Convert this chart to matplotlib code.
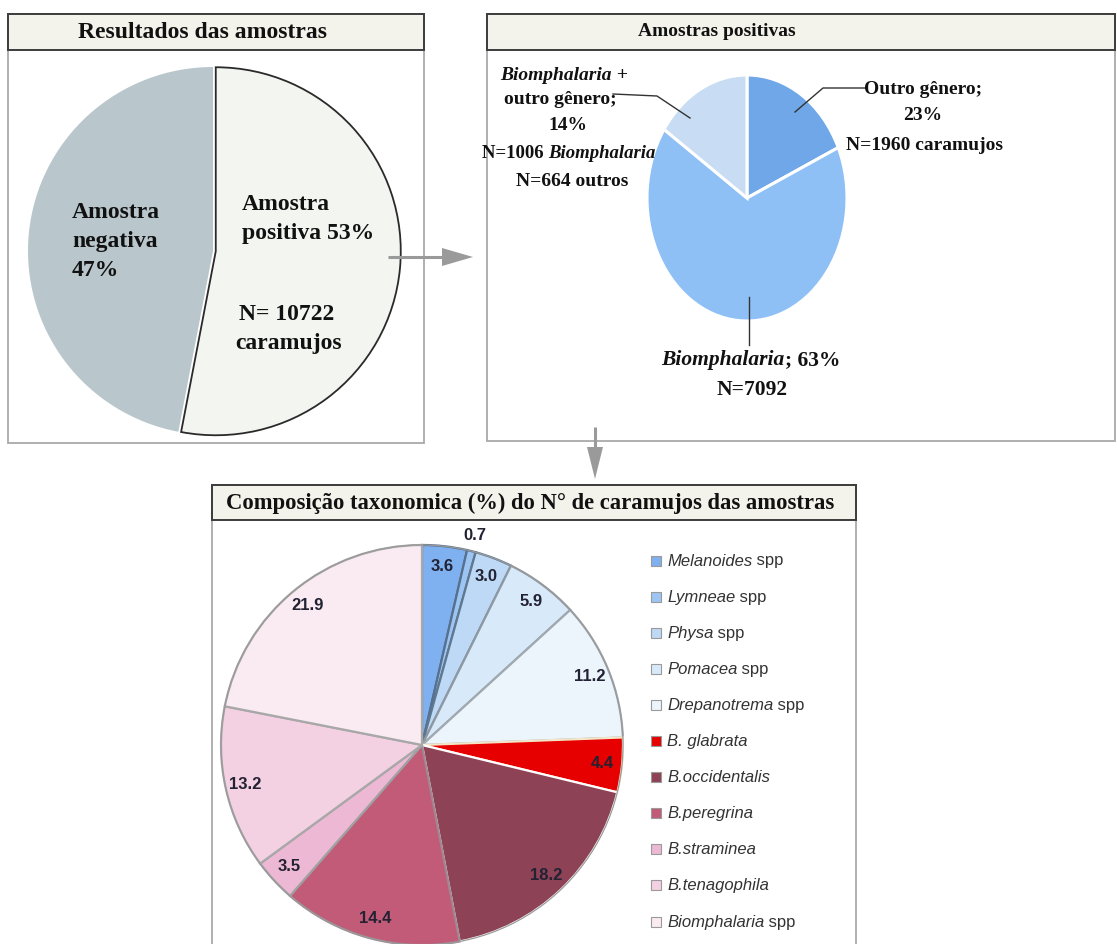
import matplotlib
matplotlib.use('Agg')
import matplotlib.pyplot as plt
from matplotlib.patches import Rectangle, Polygon, Circle
import numpy as np

W, H, DPI = 1117, 944, 100

# ---------------- data ----------------
res_labels = ['Amostra positiva', 'Amostra negativa']
res_values = [53, 47]
res_colors = ['#f3f5f0', '#b9c7cd']

pos_labels = ['Outro gênero', 'Biomphalaria', 'Biomphalaria + outro gênero']
pos_counts = [1960, 7092, 1670]          # 1670 = 1006 Biomphalaria + 664 outros
pos_pct_text = ['23%', '63%', '14%']
pos_colors = ['#6fa7e8', '#8ec0f6', '#c8dcf4']

tax_genus = ['Melanoides', 'Lymneae', 'Physa', 'Pomacea', 'Drepanotrema',
             'B. glabrata', 'B.occidentalis', 'B.peregrina', 'B.straminea',
             'B.tenagophila', 'Biomphalaria']
tax_suffix = [' spp', ' spp', ' spp', ' spp', ' spp', '', '', '', '', '', ' spp']
tax_values = [3.6, 0.7, 3.0, 5.9, 11.2, 4.4, 18.2, 14.4, 3.5, 13.2, 21.9]
tax_colors = ['#7fb0f0', '#9dc5f3', '#bdd9f6', '#d8eafa', '#ecf4fc', '#e60000',
              '#8e4256', '#c25b77', '#edb8d4', '#f4d0e3', '#faeaf2']
tax_edges = ['#56708e', '#56708e', '#5f7890', '#8e99a3', '#a0a8b0', '#f3e6c8',
             '#ffffff', '#a08892', '#a0a0a0', '#a8a8a8', '#a8a8a8']

# ---------------- figure ----------------
fig = plt.figure(figsize=(W / DPI, H / DPI), dpi=DPI)


def px_axes(x0, y0, w, h, z=1):
    return fig.add_axes([x0 / W, 1 - (y0 + h) / H, w / W, h / H], zorder=z)


def pie_axes(cx, cy, rx, ry, m=1.15, z=1):
    ax = px_axes(cx - rx * m, cy - ry * m, 2 * rx * m, 2 * ry * m, z)
    return ax, m


def finish_pie(ax, m):
    ax.set_aspect('auto')
    ax.set_xlim(-m, m)
    ax.set_ylim(-m, m)
    ax.axis('off')


bg = px_axes(0, 0, W, H, z=0)
bg.set_xlim(0, W); bg.set_ylim(H, 0); bg.axis('off')

SERIF = 'Liberation Serif'
SANS = 'Liberation Sans'


def panel(x0, x1, y0, ybar, y1):
    bg.add_patch(Rectangle((x0, y0), x1 - x0, y1 - y0, fill=False,
                           ec='#a9a9a9', lw=1.3))
    bg.add_patch(Rectangle((x0, y0), x1 - x0, ybar - y0, fc='#f3f3ec',
                           ec='#3c3c3c', lw=1.4))


panel(8, 424, 14, 50, 443)
panel(487, 1115, 14, 50, 441)
panel(212, 856, 485, 520, 960)

# ---------- pie 1 ----------
ax1, m1 = pie_axes(213, 251, 185, 184)
w1, _ = ax1.pie(res_values, colors=res_colors, startangle=90, counterclock=False,
                explode=[0.015, 0], radius=1)
w1[0].set_edgecolor('#2a2a2a'); w1[0].set_linewidth(1.3)
w1[1].set_linewidth(0)
finish_pie(ax1, m1)

# ---------- pie 2 ----------
ax2, m2 = pie_axes(747, 198, 100, 123)
w2, _ = ax2.pie(pos_counts, colors=pos_colors, startangle=90, counterclock=False,
                wedgeprops=dict(edgecolor='white', linewidth=2.2))
finish_pie(ax2, m2)

# ---------- pie 3 ----------
ax3, m3 = pie_axes(422, 745, 201, 200)
w3, _ = ax3.pie(tax_values, colors=tax_colors, startangle=90, counterclock=False,
                wedgeprops=dict(linewidth=1.6))
for w, e in zip(w3, tax_edges):
    w.set_edgecolor(e)
finish_pie(ax3, m3)
ax3.add_patch(Circle((0, 0), 1, fill=False, ec='#9a9a9a', lw=0.9))
tot = sum(tax_values)
cum = np.cumsum(tax_values)
for v, c in zip(tax_values, cum):
    frac = (c - v / 2) / tot
    th = np.deg2rad(90 - 360 * frac)
    r = 1.08 if v < 1 else 0.9
    ax3.text(r * np.cos(th), r * np.sin(th), f'{v:.1f}', ha='center', va='center',
             fontsize=12, fontweight='bold', family=SANS, color='#222233')

# ---------- overlay (text, arrows, legend) ----------
ov = px_axes(0, 0, W, H, z=10)
ov.set_xlim(0, W); ov.set_ylim(H, 0); ov.axis('off')
ov.patch.set_visible(False)
renderer = fig.canvas.get_renderer()


def rich(x, y, pieces, ha='center', size=14, family=SERIF, color='#111111'):
    texts, widths = [], []
    for s, style, weight in pieces:
        t = ov.text(0, y, s, ha='left', va='center', fontsize=size, family=family,
                    fontstyle=style, fontweight=weight, color=color)
        widths.append(t.get_window_extent(renderer).width)
        texts.append(t)
    total = sum(widths)
    start = {'center': x - total / 2, 'left': x, 'right': x - total}[ha]
    for t, w in zip(texts, widths):
        t.set_x(start)
        start += w


B = ('normal', 'bold')
BI = ('italic', 'bold')
# titles
ov.text(202, 32, 'Resultados das amostras', ha='center', va='center',
        fontsize=17, fontweight='bold', family=SERIF, color='#111')
ov.text(717, 32, 'Amostras positivas', ha='center', va='center',
        fontsize=14, fontweight='bold', family=SERIF, color='#111')
ov.text(530, 503, 'Composição taxonomica (%) do N° de caramujos das amostras',
        ha='center', va='center', fontsize=16.3, fontweight='bold', family=SERIF,
        color='#111')

# pie 1 labels
for i, s in enumerate(['Amostra', 'negativa', f'{res_values[1]}%']):
    ov.text(72, 213 + 29 * i, s, ha='left', va='center', fontsize=17,
            fontweight='bold', family=SERIF, color='#111')
ov.text(242, 205, 'Amostra', ha='left', va='center', fontsize=17,
        fontweight='bold', family=SERIF, color='#111')
ov.text(242, 234, f'positiva {res_values[0]}%', ha='left', va='center', fontsize=17,
        fontweight='bold', family=SERIF, color='#111')
ov.text(287, 315, 'N= 10722', ha='center', va='center', fontsize=17,
        fontweight='bold', family=SERIF, color='#111')
ov.text(289, 344, 'caramujos', ha='center', va='center', fontsize=17,
        fontweight='bold', family=SERIF, color='#111')

# pie 2 labels
rich(923, 90, [('Outro gênero;', *B)])
rich(923, 115, [(pos_pct_text[0], *B)])
rich(924, 146, [('N=1960 caramujos', *B)])
rich(564, 75, [('Biomphalaria', *BI), (' +', *B)])
rich(560, 99, [('outro gênero;', *B)])
rich(568, 125, [(pos_pct_text[2], *B)])
rich(569, 153, [('N=1006 ', *B), ('Biomphalaria', *BI)], size=13.5)
rich(572, 181, [('N=664 outros', *B)])
rich(751, 360, [('Biomphalaria', *BI), ('; ' + pos_pct_text[1], *B)], size=15.5)
rich(752, 390, [('N=7092', *B)], size=15.5)

# leader lines pie 2
ov.plot([795, 823, 866], [112, 88, 88], color='#333', lw=1)
ov.plot([613, 657, 690], [94, 96, 118], color='#333', lw=1)
ov.plot([749, 749], [297, 345], color='#333', lw=1)

# arrows
ov.plot([388, 444], [257, 257], color='#9a9a9a', lw=2.2, solid_capstyle='butt')
ov.add_patch(Polygon([(442, 248), (473, 257), (442, 266)], closed=True,
                     fc='#9a9a9a', ec='none'))
ov.plot([595, 595], [427, 449], color='#9a9a9a', lw=2.2, solid_capstyle='butt')
ov.add_patch(Polygon([(587, 447), (603, 447), (595, 479)], closed=True,
                     fc='#9a9a9a', ec='none'))

# legend pie 3
for i, (g, s, col) in enumerate(zip(tax_genus, tax_suffix, tax_colors)):
    y = 561 + 36.1 * i
    ov.add_patch(Rectangle((651, y - 5.5), 10, 10, fc=col, ec='#9a9a9a', lw=0.8))
    pieces = [(g, 'italic', 'normal')]
    if s:
        pieces.append((s, 'normal', 'normal'))
    rich(667, y, pieces, ha='left', size=12, family=SANS, color='#333333')

fig.savefig('out.png', dpi=DPI)
